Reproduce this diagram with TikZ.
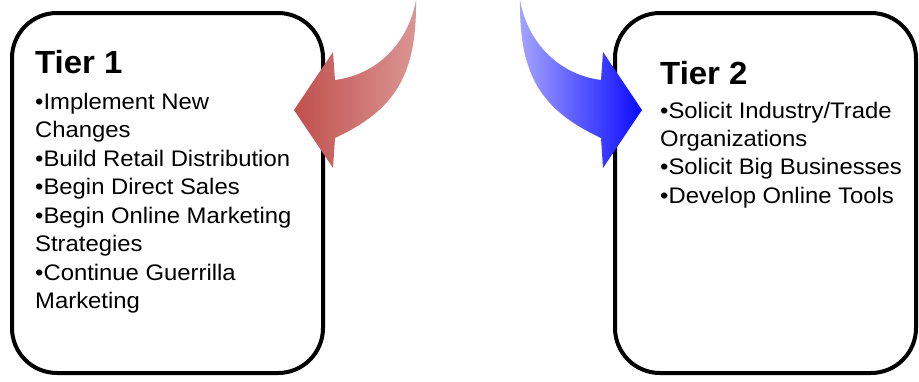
\documentclass[tikz,border=0pt]{standalone}
\usepackage{fontspec}
\setmainfont{Liberation Sans}
\newfontfamily\bodyfont[FakeStretch=1.06]{Liberation Sans}
\newfontfamily\headfont[FakeStretch=1.03]{Liberation Sans}
\begin{document}
\begin{tikzpicture}[x=1pt,y=-1pt,
  tierbox/.style={draw=black,line width=4pt,rounded corners=45pt,fill=white,inner sep=0pt},
  title/.style={anchor=base west,inner sep=0pt,font=\headfont\fontsize{32}{32}\selectfont\bfseries},
  item/.style={anchor=base west,inner sep=0pt,font=\bodyfont\fontsize{22.5}{27}\selectfont},
]
\definecolor{reddark}{RGB}{192,80,77}
\definecolor{redlight}{RGB}{219,150,148}
\definecolor{bluelight}{RGB}{165,165,255}
\definecolor{bluedark}{RGB}{10,10,255}
\useasboundingbox (0,0) rectangle (919,381);
\node[tierbox,minimum width=311pt,minimum height=360pt] (box1) at (167.5,193) {};
\node[tierbox,minimum width=301pt,minimum height=360pt] (box2) at (765.5,193) {};

\node[title] (t1) at (35,73) {Tier 1};
\node[item] (a1) at (35,109) {\textbullet Implement New};
\node[item] (a2) at (35,137) {Changes};
\node[item] (a3) at (35,166) {\textbullet Build Retail Distribution};
\node[item] (a4) at (35,194) {\textbullet Begin Direct Sales};
\node[item] (a5) at (35,223) {\textbullet Begin Online Marketing};
\node[item] (a6) at (35,251) {Strategies};
\node[item] (a7) at (35,280) {\textbullet Continue Guerrilla};
\node[item] (a8) at (35,308) {Marketing};

\node[title] (t2) at (660,84) {Tier 2};
\node[item] (b1) at (660,118) {\textbullet Solicit Industry/Trade};
\node[item] (b2) at (660,146) {Organizations};
\node[item] (b3) at (660,174) {\textbullet Solicit Big Businesses};
\node[item] (b4) at (660,203) {\textbullet Develop Online Tools};

\shade[left color=reddark,right color=redlight]
  (416,0) .. controls (408,45) and (375,75) .. (335,80) -- (333,52) -- (294,110)
  -- (333,168) -- (335,138) .. controls (395,110) and (417,75) .. (416,0) -- cycle;
\shade[left color=bluelight,right color=bluedark]
  (520,0) .. controls (528,45) and (561,75) .. (601,80) -- (603,52) -- (642,110)
  -- (603,168) -- (601,138) .. controls (541,110) and (519,75) .. (520,0) -- cycle;
\end{tikzpicture}
\end{document}
